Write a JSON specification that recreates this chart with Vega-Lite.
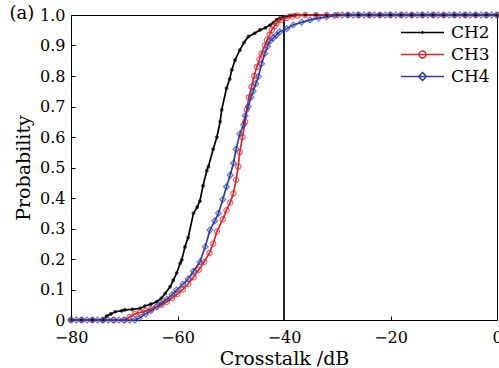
{
 "$schema": "https://vega.github.io/schema/vega-lite/v6.json",
 "width": 426,
 "height": 305,
 "autosize": "none",
 "padding": {"left": 71, "top": 15, "right": 2, "bottom": 48},
 "title": {"text": "(a)", "anchor": "start", "frame": "bounds", "offset": -16, "dx": -5, "font": "DejaVu Serif", "fontSize": 18, "fontWeight": "normal", "color": "black"},
 "config": {
  "view": {"stroke": "black", "strokeWidth": 1},
  "axis": {"domainColor": "black", "tickColor": "black", "labelColor": "black", "titleColor": "black", "labelFont": "DejaVu Serif", "titleFont": "DejaVu Serif", "labelFontSize": 16, "titleFontSize": 19, "titleFontWeight": "normal", "grid": false, "labelFlush": false}
 },
 "data": {"values": [
  {"s":"CH2","x":-80,"p":0},{"s":"CH2","x":-78,"p":0},{"s":"CH2","x":-76,"p":0},{"s":"CH2","x":-74,"p":0},
  {"s":"CH2","x":-73.3,"p":0.013},{"s":"CH2","x":-72.5,"p":0.02},{"s":"CH2","x":-71.7,"p":0.027},{"s":"CH2","x":-70.5,"p":0.03},{"s":"CH2","x":-69.9,"p":0.033},{"s":"CH2","x":-68.5,"p":0.035},{"s":"CH2","x":-67,"p":0.038},{"s":"CH2","x":-66.1,"p":0.046},{"s":"CH2","x":-65,"p":0.052},{"s":"CH2","x":-63.9,"p":0.06},{"s":"CH2","x":-63,"p":0.072},{"s":"CH2","x":-62.3,"p":0.087},{"s":"CH2","x":-61.4,"p":0.109},{"s":"CH2","x":-60.8,"p":0.13},{"s":"CH2","x":-60.15,"p":0.154},{"s":"CH2","x":-59.5,"p":0.186},{"s":"CH2","x":-59.2,"p":0.197},{"s":"CH2","x":-58.6,"p":0.24},{"s":"CH2","x":-58,"p":0.27},{"s":"CH2","x":-57,"p":0.35},{"s":"CH2","x":-56.3,"p":0.37},{"s":"CH2","x":-55.8,"p":0.39},{"s":"CH2","x":-55.2,"p":0.44},{"s":"CH2","x":-54.5,"p":0.49},{"s":"CH2","x":-54.2,"p":0.503},{"s":"CH2","x":-53.3,"p":0.56},{"s":"CH2","x":-52.6,"p":0.6},{"s":"CH2","x":-52,"p":0.65},{"s":"CH2","x":-51.7,"p":0.689},{"s":"CH2","x":-50.8,"p":0.76},{"s":"CH2","x":-50.2,"p":0.79},{"s":"CH2","x":-49.8,"p":0.82},{"s":"CH2","x":-49.2,"p":0.852},{"s":"CH2","x":-48.3,"p":0.885},{"s":"CH2","x":-47.5,"p":0.91},{"s":"CH2","x":-46.7,"p":0.929},{"s":"CH2","x":-45.5,"p":0.94},{"s":"CH2","x":-44.5,"p":0.951},{"s":"CH2","x":-43.5,"p":0.958},{"s":"CH2","x":-42.6,"p":0.967},{"s":"CH2","x":-42,"p":0.975},{"s":"CH2","x":-41.4,"p":0.984},{"s":"CH2","x":-40.8,"p":0.99},{"s":"CH2","x":-40.1,"p":0.994},{"s":"CH2","x":-39,"p":0.998},{"s":"CH2","x":-38,"p":1},{"s":"CH2","x":-36,"p":1},{"s":"CH2","x":-34,"p":1},{"s":"CH2","x":-32,"p":1},{"s":"CH2","x":-30,"p":1},{"s":"CH2","x":-28,"p":1},{"s":"CH2","x":-26,"p":1},{"s":"CH2","x":-24,"p":1},{"s":"CH2","x":-22,"p":1},{"s":"CH2","x":-20,"p":1},{"s":"CH2","x":-18,"p":1},{"s":"CH2","x":-16,"p":1},{"s":"CH2","x":-14,"p":1},{"s":"CH2","x":-12,"p":1},{"s":"CH2","x":-10,"p":1},{"s":"CH2","x":-8,"p":1},{"s":"CH2","x":-6,"p":1},{"s":"CH2","x":-4,"p":1},{"s":"CH2","x":-2,"p":1},{"s":"CH2","x":0,"p":1},
  {"s":"CH3","x":-80,"p":0},{"s":"CH3","x":-78,"p":0},{"s":"CH3","x":-76,"p":0},{"s":"CH3","x":-74,"p":0},{"s":"CH3","x":-72,"p":0},{"s":"CH3","x":-70,"p":0},{"s":"CH3","x":-69,"p":0.01},
  {"s":"CH3","x":-68,"p":0.02},{"s":"CH3","x":-67,"p":0.025},{"s":"CH3","x":-66,"p":0.03},{"s":"CH3","x":-65,"p":0.036},{"s":"CH3","x":-64,"p":0.042},{"s":"CH3","x":-63,"p":0.05},{"s":"CH3","x":-62,"p":0.06},{"s":"CH3","x":-61,"p":0.072},{"s":"CH3","x":-60,"p":0.085},{"s":"CH3","x":-59,"p":0.1},{"s":"CH3","x":-58,"p":0.118},{"s":"CH3","x":-57,"p":0.14},{"s":"CH3","x":-56,"p":0.165},{"s":"CH3","x":-55,"p":0.19},{"s":"CH3","x":-54,"p":0.22},{"s":"CH3","x":-53.3,"p":0.25},{"s":"CH3","x":-52.6,"p":0.29},{"s":"CH3","x":-51.5,"p":0.33},{"s":"CH3","x":-50.8,"p":0.36},{"s":"CH3","x":-50.1,"p":0.385},{"s":"CH3","x":-49.5,"p":0.415},{"s":"CH3","x":-49,"p":0.46},{"s":"CH3","x":-48.6,"p":0.503},{"s":"CH3","x":-48.3,"p":0.55},{"s":"CH3","x":-47.8,"p":0.6},{"s":"CH3","x":-47.3,"p":0.65},{"s":"CH3","x":-47,"p":0.69},{"s":"CH3","x":-46.6,"p":0.73},{"s":"CH3","x":-46.1,"p":0.765},{"s":"CH3","x":-45.6,"p":0.8},{"s":"CH3","x":-45.1,"p":0.83},{"s":"CH3","x":-44.6,"p":0.855},{"s":"CH3","x":-44.2,"p":0.874},{"s":"CH3","x":-43.6,"p":0.9},{"s":"CH3","x":-43.2,"p":0.918},{"s":"CH3","x":-42.7,"p":0.935},{"s":"CH3","x":-42.3,"p":0.951},{"s":"CH3","x":-41.8,"p":0.963},{"s":"CH3","x":-41.4,"p":0.973},{"s":"CH3","x":-40.5,"p":0.984},{"s":"CH3","x":-39.5,"p":0.99},{"s":"CH3","x":-38.5,"p":0.995},{"s":"CH3","x":-37.5,"p":0.998},{"s":"CH3","x":-36,"p":1},{"s":"CH3","x":-34,"p":1},{"s":"CH3","x":-32,"p":1},{"s":"CH3","x":-30,"p":1},{"s":"CH3","x":-28,"p":1},{"s":"CH3","x":-26,"p":1},{"s":"CH3","x":-24,"p":1},{"s":"CH3","x":-22,"p":1},{"s":"CH3","x":-20,"p":1},{"s":"CH3","x":-18,"p":1},{"s":"CH3","x":-16,"p":1},{"s":"CH3","x":-14,"p":1},{"s":"CH3","x":-12,"p":1},{"s":"CH3","x":-10,"p":1},{"s":"CH3","x":-8,"p":1},{"s":"CH3","x":-6,"p":1},{"s":"CH3","x":-4,"p":1},{"s":"CH3","x":-2,"p":1},{"s":"CH3","x":0,"p":1},
  {"s":"CH4","x":-80,"p":0},{"s":"CH4","x":-79,"p":0},{"s":"CH4","x":-78,"p":0},{"s":"CH4","x":-77,"p":0},{"s":"CH4","x":-76,"p":0},{"s":"CH4","x":-75,"p":0},{"s":"CH4","x":-74,"p":0},{"s":"CH4","x":-73,"p":0},{"s":"CH4","x":-72,"p":0},{"s":"CH4","x":-71,"p":0},{"s":"CH4","x":-70,"p":0},{"s":"CH4","x":-69,"p":0},{"s":"CH4","x":-68,"p":0},
  {"s":"CH4","x":-67.2,"p":0.006},{"s":"CH4","x":-66,"p":0.02},{"s":"CH4","x":-65,"p":0.03},{"s":"CH4","x":-63.9,"p":0.044},{"s":"CH4","x":-63,"p":0.055},{"s":"CH4","x":-62,"p":0.068},{"s":"CH4","x":-61,"p":0.083},{"s":"CH4","x":-60.2,"p":0.098},{"s":"CH4","x":-59,"p":0.117},{"s":"CH4","x":-58,"p":0.135},{"s":"CH4","x":-57,"p":0.16},{"s":"CH4","x":-55.8,"p":0.19},{"s":"CH4","x":-54.8,"p":0.24},{"s":"CH4","x":-53.9,"p":0.295},{"s":"CH4","x":-53,"p":0.325},{"s":"CH4","x":-52.3,"p":0.35},{"s":"CH4","x":-51.5,"p":0.395},{"s":"CH4","x":-50.8,"p":0.437},{"s":"CH4","x":-50.1,"p":0.475},{"s":"CH4","x":-49.5,"p":0.514},{"s":"CH4","x":-49,"p":0.56},{"s":"CH4","x":-48.3,"p":0.61},{"s":"CH4","x":-47.6,"p":0.64},{"s":"CH4","x":-47.3,"p":0.67},{"s":"CH4","x":-46.7,"p":0.7},{"s":"CH4","x":-46.2,"p":0.73},{"s":"CH4","x":-45.8,"p":0.75},{"s":"CH4","x":-45.3,"p":0.775},{"s":"CH4","x":-44.8,"p":0.798},{"s":"CH4","x":-44.2,"p":0.84},{"s":"CH4","x":-43.6,"p":0.874},{"s":"CH4","x":-43.1,"p":0.897},{"s":"CH4","x":-42.6,"p":0.915},{"s":"CH4","x":-42,"p":0.925},{"s":"CH4","x":-41.4,"p":0.934},{"s":"CH4","x":-40.8,"p":0.945},{"s":"CH4","x":-39.5,"p":0.955},{"s":"CH4","x":-38.3,"p":0.967},{"s":"CH4","x":-36.7,"p":0.976},{"s":"CH4","x":-35.1,"p":0.984},{"s":"CH4","x":-33.5,"p":0.99},{"s":"CH4","x":-32,"p":0.994},{"s":"CH4","x":-30.5,"p":0.998},{"s":"CH4","x":-29,"p":1},{"s":"CH4","x":-28,"p":1},{"s":"CH4","x":-27,"p":1},{"s":"CH4","x":-26,"p":1},{"s":"CH4","x":-25,"p":1},{"s":"CH4","x":-24,"p":1},{"s":"CH4","x":-23,"p":1},{"s":"CH4","x":-22,"p":1},{"s":"CH4","x":-21,"p":1},{"s":"CH4","x":-20,"p":1},{"s":"CH4","x":-19,"p":1},{"s":"CH4","x":-18,"p":1},{"s":"CH4","x":-17,"p":1},{"s":"CH4","x":-16,"p":1},{"s":"CH4","x":-15,"p":1},{"s":"CH4","x":-14,"p":1},{"s":"CH4","x":-13,"p":1},{"s":"CH4","x":-12,"p":1},{"s":"CH4","x":-11,"p":1},{"s":"CH4","x":-10,"p":1},{"s":"CH4","x":-9,"p":1},{"s":"CH4","x":-8,"p":1},{"s":"CH4","x":-7,"p":1},{"s":"CH4","x":-6,"p":1},{"s":"CH4","x":-5,"p":1},{"s":"CH4","x":-4,"p":1},{"s":"CH4","x":-3,"p":1},{"s":"CH4","x":-2,"p":1},{"s":"CH4","x":-1,"p":1},{"s":"CH4","x":0,"p":1}
 ]},
 "encoding": {
  "x": {"field": "x", "type": "quantitative", "scale": {"domain": [-80, 0], "nice": false, "zero": false, "padding": 0},
        "axis": {"values": [-80, -60, -40, -20, 0], "title": "Crosstalk /dB", "tickSize": -4, "labelPadding": 13, "titlePadding": 4}},
  "y": {"field": "p", "type": "quantitative", "scale": {"domain": [0, 1], "nice": false, "padding": 0},
        "axis": {"values": [0, 0.1, 0.2, 0.3, 0.4, 0.5, 0.6, 0.7, 0.8, 0.9, 1], "labelExpr": "datum.value == 0 ? '0' : format(datum.value, '.1f')", "title": "Probability", "tickSize": -4, "labelPadding": 10, "titlePadding": 6}}
 },
 "layer": [
  {"mark": {"type": "rule", "color": "#222", "strokeWidth": 1}, "encoding": {"x": {"datum": -40}, "y": null}},
  {"mark": {"type": "line", "strokeWidth": 1.7},
   "encoding": {
    "order": {"field": "x", "type": "quantitative"},
    "color": {"field": "s", "type": "nominal", "scale": {"domain": ["CH2", "CH3", "CH4"], "range": ["#000000", "#e3252b", "#2b3ea8"]},
     "legend": {"orient": "none", "legendX": 343, "legendY": 9, "padding": 0, "title": null, "labelFont": "DejaVu Serif", "labelFontSize": 17, "labelColor": "black", "labelOffset": 20, "rowPadding": 4, "symbolSize": 100, "symbolStrokeWidth": 1.5,
      "encode": {"symbols": {"update": {"shape": {"signal": "datum.value === 'CH2' ? 'M-4.3,0L4.3,0M-0.3,0L0.3,0M0,-0.3L0,0.3' : datum.value === 'CH3' ? 'M-4.3,0L4.3,0M-0.7,0A0.7,0.7 0 1,0 0.7,0A0.7,0.7 0 1,0 -0.7,0' : 'M-4.3,0L4.3,0M0,-0.8L0.8,0L0,0.8L-0.8,0Z'"}, "fill": {"value": "transparent"}, "size": {"value": 100}}}}}}
   }},
  {"mark": {"type": "point", "filled": false, "strokeWidth": 1.2},
   "encoding": {
    "stroke": {"condition": [{"test": "datum.s === 'CH2'", "value": "#000000"}, {"test": "datum.s === 'CH3'", "value": "#e3252b"}], "value": "#2b3ea8"},
    "shape": {"condition": [{"test": "datum.s === 'CH2'", "value": "cross"}, {"test": "datum.s === 'CH3'", "value": "circle"}], "value": "diamond"},
    "size": {"condition": [{"test": "datum.s === 'CH2'", "value": 6}, {"test": "datum.s === 'CH3'", "value": 28}], "value": 34}
   }}
 ]
}
